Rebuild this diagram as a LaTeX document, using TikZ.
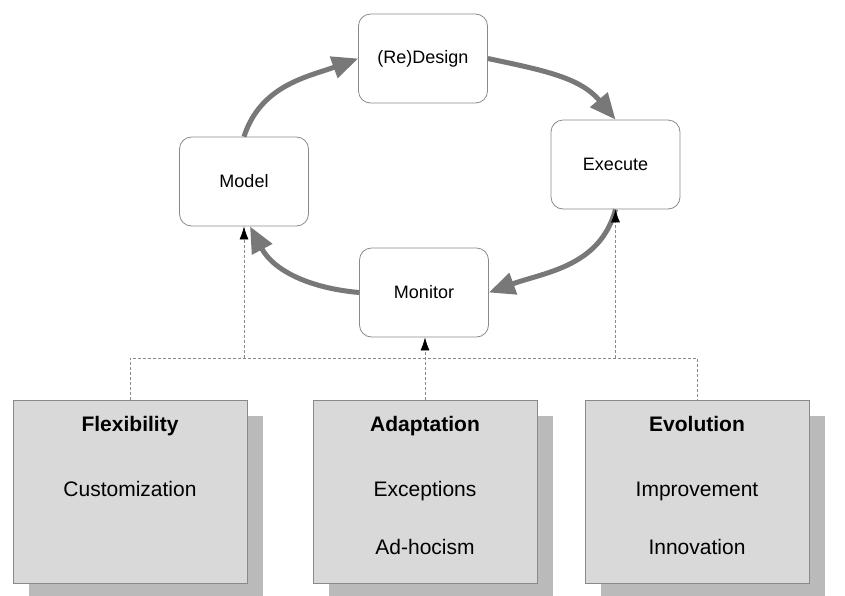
\documentclass[tikz,border=0pt]{standalone}
\usepackage{fontspec}
\setmainfont{Liberation Sans}
\usetikzlibrary{arrows.meta,shadows,positioning}
\definecolor{boxgray}{HTML}{D9D9D9}
\definecolor{shadegray}{HTML}{BABABA}
\definecolor{linegray}{HTML}{8A8A8A}
\definecolor{loopgray}{HTML}{787878}

\begin{document}
\begin{tikzpicture}[x=1pt,y=-1pt,
  phase/.style={draw=linegray,line width=0.8pt,rounded corners=12pt,fill=white,
    minimum width=129pt,minimum height=89pt,font=\fontsize{18}{20}\selectfont},
  kind/.style={draw=linegray,line width=0.8pt,fill=boxgray,minimum width=224pt,minimum height=183pt,
    drop shadow={shadow xshift=16pt,shadow yshift=-16pt,fill=shadegray,opacity=1}},
  kindtitle/.style={anchor=base,font=\fontsize{21}{23}\selectfont\bfseries},
  kinditem/.style={anchor=base,font=\fontsize{21}{23}\selectfont},
  loop/.style={draw=loopgray,line width=5pt,-{Triangle[length=26pt,width=22pt]}},
  dep/.style={draw=linegray,line width=0.7pt,dash pattern=on 3pt off 2pt},
  deparrow/.style={dep,-{Latex[length=13pt,width=9pt,color=black]}}]
\useasboundingbox (0,0) rectangle (845,595);

% the cycle
\node[phase] (design) at (423,58.5) {(Re)Design};
\node[phase] (model) at (244,181.5) {Model};
\node[phase] (exec) at (615.5,164.5) {Execute};
\node[phase] (mon) at (424,292.5) {Monitor};

\draw[loop] (model.north) to[out=72,in=200] (design.west);
\draw[loop] (design.east) to[out=-12,in=130] (exec.north);
\draw[loop] (exec.south) to[out=-105,in=20] (mon.east);
\draw[loop] (mon.west) to[out=175,in=-62] ([xshift=6pt]model.south);

% the three kinds of change
\node[kind,minimum width=234pt] (flex) at (130,491.5) {};
\node[kind] (adapt) at (425,491.5) {};
\node[kind] (evol) at (697,491.5) {};

\node[kindtitle] (flextitle) at ([yshift=-32pt]flex.north) {Flexibility};
\node[kinditem] (custom) at ([yshift=-97pt]flex.north) {Customization};
\node[kindtitle] (adapttitle) at ([yshift=-32pt]adapt.north) {Adaptation};
\node[kinditem] (except) at ([yshift=-97pt]adapt.north) {Exceptions};
\node[kinditem] (adhoc) at ([yshift=-155pt]adapt.north) {Ad-hocism};
\node[kindtitle] (evoltitle) at ([yshift=-32pt]evol.north) {Evolution};
\node[kinditem] (improve) at ([yshift=-97pt]evol.north) {Improvement};
\node[kinditem] (innov) at ([yshift=-155pt]evol.north) {Innovation};

% dotted links
\coordinate (bus) at (0,358);
\draw[dep] (flex.north) |- (bus -| evol.north) -- (evol.north);
\draw[deparrow] (bus -| model.south) -- (model.south);
\draw[deparrow] (bus -| exec.south) -- (exec.south);
\draw[deparrow] (adapt.north) -- (adapt.north |- mon.south);
\end{tikzpicture}
\end{document}
